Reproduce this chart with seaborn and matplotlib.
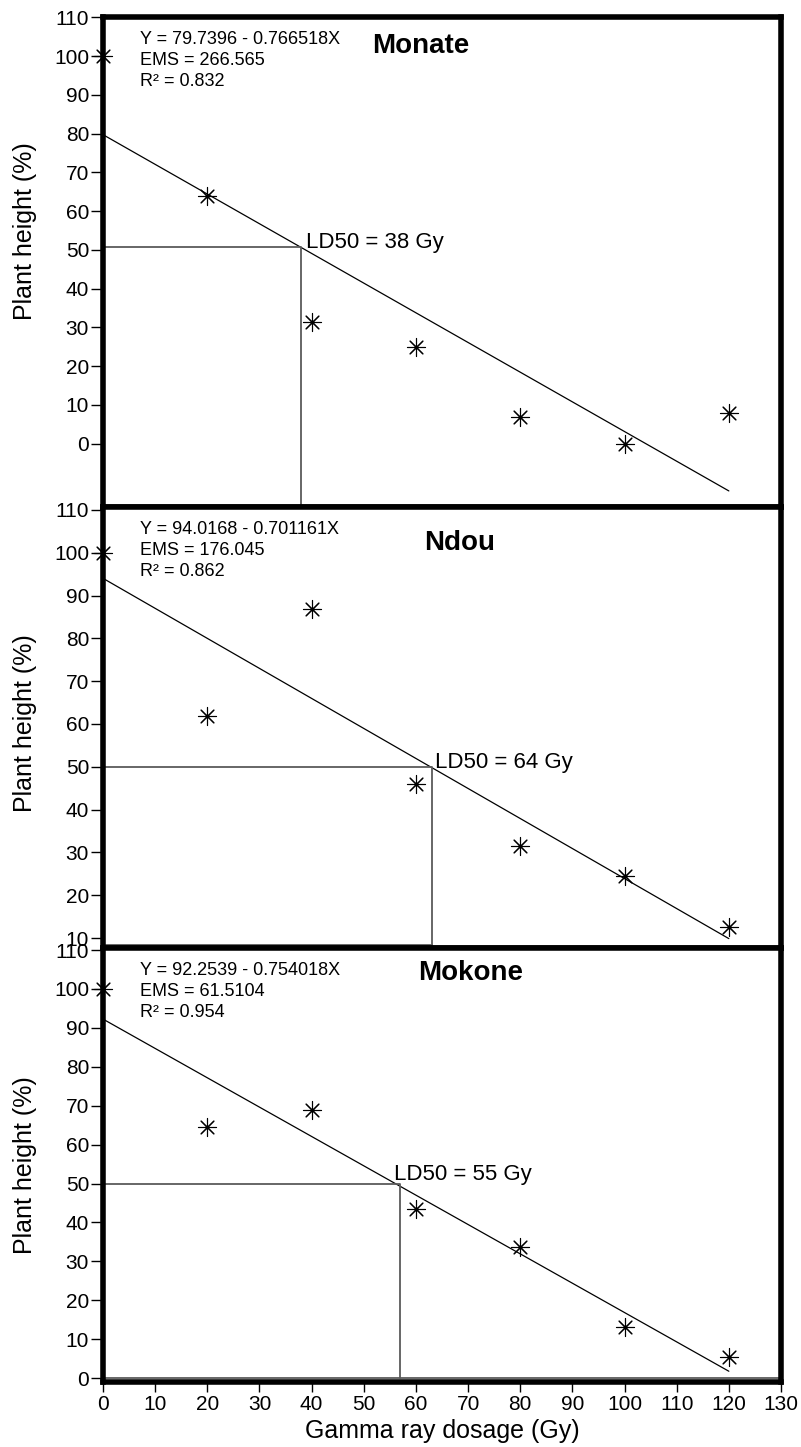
import matplotlib
matplotlib.use('Agg')
import matplotlib.pyplot as plt
import seaborn as sns
import pandas as pd

# gamma ray dose (Gy) and plant height (% of control) per cultivar
dose = [0, 20, 40, 60, 80, 100, 120]
monate = [100, 64.0, 31.4, 24.9, 6.9, 0.0, 7.8]
ndou = [100, 61.8, 86.8, 46.1, 31.6, 24.6, 12.6]
mokone = [100, 64.5, 69.0, 43.5, 33.6, 13.1, 5.4]

cultivars = ['Monate', 'Ndou', 'Mokone']
heights = [monate, ndou, mokone]
intercepts = [79.7396, 94.0168, 92.2539]
slopes = [0.766518, 0.701161, 0.754018]
ems = ['266.565', '176.045', '61.5104']
r2 = ['0.832', '0.862', '0.954']
ld50 = [38, 64, 55]
ld50_guide_x = [38.0, 63.0, 57.0]
ld50_guide_y = [50.7, 50.0, 50.0]

sns.set_style('ticks')
plt.rcParams['font.family'] = ['Liberation Sans', 'DejaVu Sans']
plt.rcParams['text.color'] = 'black'
plt.rcParams['axes.labelcolor'] = 'black'
plt.rcParams['xtick.color'] = 'black'
plt.rcParams['ytick.color'] = 'black'

fig = plt.figure(figsize=(8.01, 14.47), dpi=100)

# panel layout (figure fractions) and y ranges
left, width = 103 / 801, 678 / 801
bottoms = [0.6496, 0.3449, 0.0449]
panel_h = [0.3386, 0.3048, 0.2999]
ylims = [(-16.4, 110.1), (7.7, 110.7), (-1.0, 110.5)]
yticks = [range(0, 111, 10), range(10, 111, 10), range(0, 111, 10)]
guide_floor = [-16.4, 8.4, 0.0]
title_pos = [(60.9, 100.9), (68.4, 100.7), (70.4, 102.3)]
ld_text_pos = [(38.9, 50.4), (63.6, 49.8), (55.8, 50.8)]
ylabel_y = [0.563, 0.51, 0.5]

for i, name in enumerate(cultivars):
    ax = fig.add_axes([left, bottoms[i], width, panel_h[i]])
    df = pd.DataFrame({'dose': dose, 'height': heights[i]})

    # fitted line from the reported equation
    a, b = intercepts[i], slopes[i]
    fit = pd.DataFrame({'dose': [0, 120], 'height': [a, a - b * 120]})
    sns.lineplot(data=fit, x='dose', y='height', color='black', linewidth=0.9, ax=ax)

    # LD50 guide lines
    gx, gy = ld50_guide_x[i], ld50_guide_y[i]
    ax.plot([0, gx, gx], [gy, gy, guide_floor[i]], color='#5a5a5a', linewidth=1.3)
    if i == 1:
        ax.plot([0, gx], [guide_floor[i], guide_floor[i]], color='#5a5a5a', linewidth=1.3)
    if i == 2:
        ax.axhline(0, color='#5a5a5a', linewidth=1.3)

    sns.scatterplot(data=df, x='dose', y='height', marker=(8, 2, 0), s=170,
                    color='black', linewidth=0.8, ax=ax, clip_on=False, zorder=5)

    ax.set_xlim(0, 130)
    ax.set_ylim(*ylims[i])
    ax.set_yticks(list(yticks[i]))
    ax.set_xticks(range(0, 131, 10))
    for sp in ax.spines.values():
        sp.set_linewidth(4)
        sp.set_color('black')
    ax.tick_params(axis='y', direction='out', length=9, width=1, pad=1, labelsize=15)
    if i < 2:
        ax.tick_params(axis='x', bottom=False, labelbottom=False)
        ax.set_xlabel('')
    else:
        ax.tick_params(axis='x', direction='out', length=7, width=1, pad=2, labelsize=15)
        ax.set_xlabel('Gamma ray dosage (Gy)', fontsize=18, labelpad=4)

    ax.set_ylabel('Plant height (%)', fontsize=18)
    ax.yaxis.set_label_coords(-0.097, ylabel_y[i])

    ax.annotate(f'Y = {a} - {b}X\nEMS = {ems[i]}\nR² = {r2[i]}', xy=(0, 1),
                xycoords='axes fraction', xytext=(27, -10), textcoords='offset points',
                ha='left', va='top', fontsize=13, linespacing=1.3)
    tx, ty = title_pos[i]
    ax.text(tx, ty, name, fontsize=20, fontweight='bold', ha='center', va='baseline')
    lx, ly = ld_text_pos[i]
    ax.text(lx, ly, f'LD50 = {ld50[i]} Gy', fontsize=16, ha='left', va='baseline')

fig.savefig('out.png', dpi=100)
